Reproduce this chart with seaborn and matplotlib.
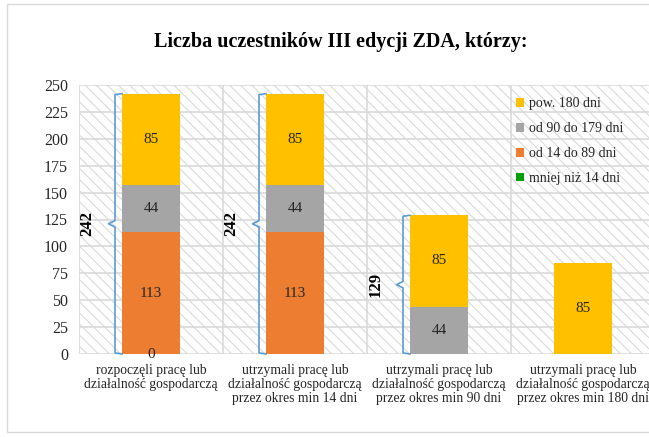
import numpy as np
import pandas as pd
import matplotlib
matplotlib.use("Agg")
import matplotlib.pyplot as plt
from matplotlib.patches import Rectangle, Patch
import seaborn as sns

kategorie = ["rozpoczęli pracę lub\ndziałalność gospodarczą",
             "utrzymali pracę lub\ndziałalność gospodarczą\nprzez okres min 14 dni",
             "utrzymali pracę lub\ndziałalność gospodarczą\nprzez okres min 90 dni",
             "utrzymali pracę lub\ndziałalność gospodarczą\nprzez okres min 180 dni"]
mniej_14 = [0, np.nan, np.nan, np.nan]
od_14_89 = [113, 113, np.nan, np.nan]
od_90_179 = [44, 44, 44, np.nan]
pow_180 = [85, 85, 85, 85]
serie = ["mniej niż 14 dni", "od 14 do 89 dni", "od 90 do 179 dni", "pow. 180 dni"]
kolory = ["#00A000", "#ED7D31", "#A5A5A5", "#FFC000"]
sumy = [242, 242, 129, 85]
tytul = "Liczba uczestników III edycji ZDA, którzy:"

sns.set_style("white")
plt.rcParams["font.family"] = ["Liberation Serif", "DejaVu Serif"]
plt.rcParams["hatch.linewidth"] = 0.8

wartosci = np.nan_to_num(np.array([mniej_14, od_14_89, od_90_179, pow_180], dtype=float))
skumulowane = np.cumsum(wartosci, axis=0)
df = pd.DataFrame({"kategoria": kategorie})
for i, s in enumerate(serie):
    df[s] = skumulowane[i]

fig = plt.figure(figsize=(6.49, 4.37), dpi=100)
fig.patches.append(Rectangle((7 / 649, 5 / 437), 660 / 649, 428 / 437, transform=fig.transFigure,
                             fill=False, edgecolor="#d9d9d9", lw=1, figure=fig))
ax = fig.add_axes([79 / 649, 1 - 354 / 437, 576 / 649, 269 / 437])

# hatched background
ax.add_patch(Rectangle((0, 0), 1, 1, transform=ax.transAxes, facecolor="white",
                       edgecolor="#d9d9d9", hatch="\\\\\\", lw=0, zorder=0))

# stacked bars: draw cumulative totals from the top series down
for i in range(len(serie) - 1, -1, -1):
    sns.barplot(data=df, x="kategoria", y=serie[i], color=kolory[i], width=0.4,
                errorbar=None, linewidth=0, saturation=1, ax=ax, zorder=3)

# segment labels
for i, s in enumerate([mniej_14, od_14_89, od_90_179, pow_180]):
    for j, v in enumerate(s):
        if np.isnan(v):
            continue
        dol = skumulowane[i][j] - v
        ax.text(j, dol + v / 2, f"{int(v)}", ha="center", va="center",
                fontsize=11, color="#262626", zorder=5)

# braces with totals
for j, t in enumerate(sumy):
    if j == 3:
        continue
    xl = j - 0.25
    kol = "#5B9BD5"
    ax.plot([j - 0.2, xl, xl, xl - 0.045, xl, xl, j - 0.2],
            [t, t - 1, t / 2 + 3, t / 2, t / 2 - 3, 1, 0],
            color=kol, lw=1.2, clip_on=False, zorder=4)
    ax.text(j - 0.44, t / 2, str(t), rotation=90, ha="center", va="center",
            fontsize=12, fontweight="bold", color="black", zorder=5)

ax.set_xlim(-0.5, 3.5)
ax.set_ylim(0, 250)
ax.set_yticks(range(0, 251, 25))
ax.set_xticks(range(4))
ax.set_xticklabels(kategorie, fontsize=9.8, color="#262626", linespacing=1.1)
ax.tick_params(axis="y", labelsize=11.5, colors="#262626", length=0, pad=8)
ax.tick_params(axis="x", length=0, pad=7)
ax.set_xlabel("")
ax.set_ylabel("")
for x in [-0.5, 0.5, 1.5, 2.5]:
    ax.axvline(x, color="#d9d9d9", lw=1.2, zorder=1)
for y in range(25, 251, 25):
    ax.axhline(y, color="#d9d9d9", lw=1.2, zorder=1)
for sp in ax.spines.values():
    sp.set_visible(False)
ax.axhline(0, color="#d9d9d9", lw=1.2, zorder=2)

uchwyty = [Patch(facecolor=kolory[i], edgecolor="none", label=serie[i]) for i in range(3, -1, -1)]
ax.legend(handles=uchwyty, loc="upper left", bbox_to_anchor=(0.737, 1.0), frameon=False,
          fontsize=10, handlelength=0.6, handleheight=0.6, handletextpad=0.3,
          labelspacing=0.85, borderpad=0.4)

fig.text(0.525, 1 - 42 / 437, tytul, ha="center", va="center", fontsize=14.5,
         fontweight="bold", color="black")

fig.savefig("out.png", dpi=100)
